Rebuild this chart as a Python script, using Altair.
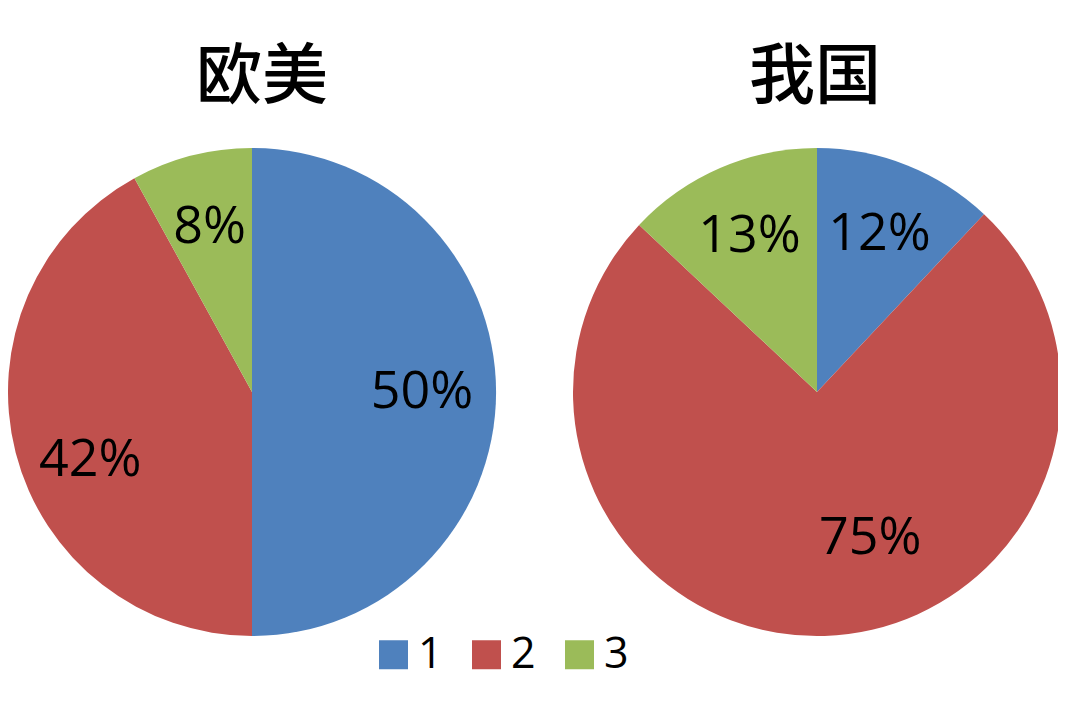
import altair as alt
import pandas as pd

regions = ["欧美", "我国"]
categories = ["1", "2", "3"]
values_west = [50, 42, 8]
values_china = [12, 75, 13]
colors = ["#4F81BD", "#C0504D", "#9BBB59"]

rows = []
for cat, v in zip(categories, values_west):
    rows.append({"region": regions[0], "cat": cat, "value": v, "label": f"{v}%"})
for cat, v in zip(categories, values_china):
    rows.append({"region": regions[1], "cat": cat, "value": v, "label": f"{v}%"})
df = pd.DataFrame(rows)

W, H = 1050, 688
R = 244
LABEL_R = 170
CY = 384
CENTERS = {regions[0]: 244, regions[1]: 809}
TITLE_X = {regions[0]: 254, regions[1]: 807}
TITLE_Y = 70
# Excel nudges the label of the large red slice away from its bisector
RED_LABEL_SHIFT = {regions[0]: (3, 26), regions[1]: (48, -24)}

color = alt.Color(
    "cat:N",
    scale=alt.Scale(domain=categories, range=colors),
    legend=alt.Legend(
        title=None,
        orient="none",
        legendX=364,
        legendY=625,
        direction="horizontal",
        symbolType="square",
        symbolSize=841,
        symbolStrokeWidth=0,
        symbolOpacity=1,
        labelFontSize=43,
        labelFont="Open Sans",
        labelColor="#000000",
        labelOffset=3,
        columnPadding=22,
        padding=0,
    ),
)

theta = alt.Theta("value:Q", stack=True)
order = alt.Order("cat:N", sort="ascending")
text_style = dict(radius=LABEL_R, fontSize=52, font="Open Sans", color="#000000", baseline="middle")

layers = []
for region in regions:
    base = alt.Chart(df).transform_filter(alt.datum.region == region)
    cx = alt.value(CENTERS[region])
    cy = alt.value(CY)
    layers.append(
        base.mark_arc(outerRadius=R, stroke=None).encode(
            theta=theta, color=color, order=order, x=cx, y=cy
        )
    )
    dx, dy = RED_LABEL_SHIFT[region]
    layers.append(
        base.mark_text(**text_style).encode(
            theta=theta, order=order, x=cx, y=cy,
            text=alt.condition(alt.datum.cat == "2", alt.value(""), alt.Text("label:N")),
        )
    )
    layers.append(
        base.mark_text(dx=dx, dy=dy, **text_style).encode(
            theta=theta, order=order, x=cx, y=cy,
            text=alt.condition(alt.datum.cat == "2", alt.Text("label:N"), alt.value("")),
        )
    )
    layers.append(
        base.transform_filter(alt.datum.cat == "1")
        .mark_text(
            fontSize=66, font="Noto Sans CJK SC", fontWeight=500, color="#000000",
            baseline="middle", align="center",
        )
        .encode(x=alt.value(TITLE_X[region]), y=alt.value(TITLE_Y), text="region:N")
    )

chart = (
    alt.layer(*layers)
    .properties(
        width=W, height=H, padding=0, background="#ffffff",
        autosize=alt.AutoSizeParams(type="none"),
    )
    .configure_view(stroke=None)
)

chart.save("out.html", embed_options={"renderer": "svg", "actions": False})
